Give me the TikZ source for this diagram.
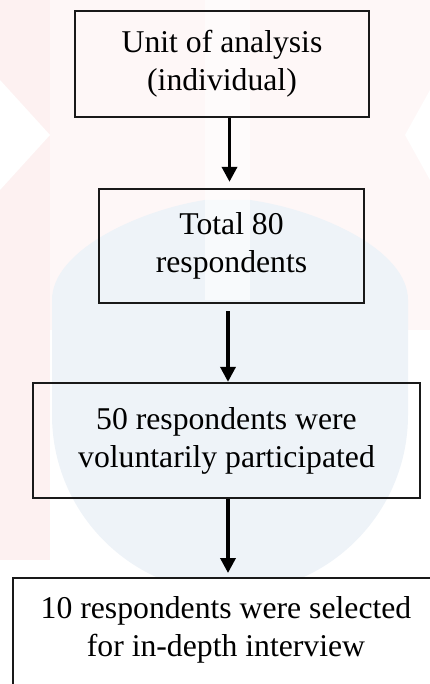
\documentclass[tikz,border=0pt]{standalone}
\usepackage{fontspec}
\setmainfont{Liberation Serif}
\usetikzlibrary{arrows.meta}
\definecolor{wmblue}{HTML}{EEF3F8}
\definecolor{wmpink}{HTML}{FDF1F1}
\definecolor{wmpinklight}{HTML}{FEF7F7}
\begin{document}
\begin{tikzpicture}[x=1pt,y=1pt,
  box/.style={draw=black!90, line width=2.3pt, align=center, inner sep=0pt,
    font=\fontsize{31.7}{38}\selectfont},
  txt/.style={align=center, inner sep=0pt, font=\fontsize{31.7}{38}\selectfont},
  arr/.style={line width=3.5pt, -{Triangle[width=15pt,length=15pt]}}]
\useasboundingbox (0,0) rectangle (430,-684);
\clip (0,0) rectangle (430,-684);
% faint watermark
\fill[wmpinklight] (0,0) rectangle (430,-330);
\fill[wmpink] (0,0) -- (50,0) -- (50,-560) -- (0,-560) -- cycle;
\fill[white] (0,-80) -- (50,-135) -- (0,-190) -- cycle;
\fill[white] (430,-90) -- (405,-135) -- (430,-180) -- cycle;
\fill[wmblue] (52,-300) .. controls (52,-250) and (140,-210) .. (205,-200) -- (250,-200) .. controls (320,-210) and (408,-250) .. (408,-300) -- (408,-415) arc[start angle=0, end angle=-180, radius=178] -- cycle;
\fill[white, opacity=0.6] (205,0) rectangle (250,-300);
% diagram
\node[box, minimum width=294pt, minimum height=106pt] (a) at (222,-64) {Unit of analysis\\(individual)};
\node[box, minimum width=265pt, minimum height=114pt] (b) at (231.5,-246) {Total 80\\respondents};
\node[box, minimum width=387pt, minimum height=115pt] (c) at (226.5,-440.5) {50 respondents were\\voluntarily participated};
\node[box, fill=white, anchor=north west, minimum width=440pt, minimum height=130pt] (d) at (12,-577) {};
\node[txt] (dt) at (226,-629.5) {10 respondents were selected\\for in-depth interview};
\coordinate (x1) at (229.5,0);
\coordinate (x2) at (228,0);
\draw[arr, shorten >=6pt] (a.south -| x1) -- (b.north -| x1);
\draw[arr, shorten <=7pt] (b.south -| x2) -- (c.north -| x2);
\draw[arr, shorten >=4pt] (c.south -| x2) -- (d.north -| x2);
\end{tikzpicture}
\end{document}
